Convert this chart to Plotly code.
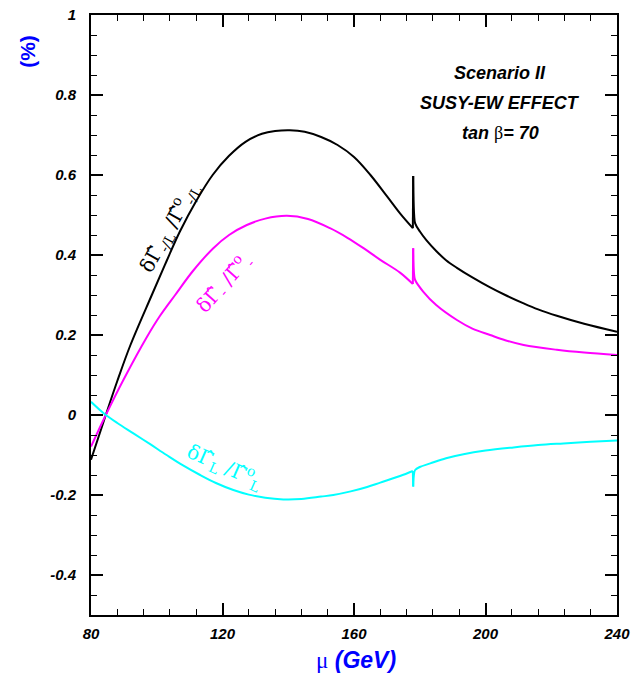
import plotly.graph_objects as go

# mu scan (GeV) and relative corrections (%) for each width;
# every curve has a threshold cusp at mu = 178 GeV
mu_total = [80, 84.5, 88, 92, 98.5, 103, 107, 112, 117, 122, 127, 132, 136, 140.5, 145, 150,
            155, 160, 165, 170, 174, 177.9,
            178.0, 178.3, 178.6, 180.1, 182, 185, 188, 191.3, 196, 201.4, 206, 211.6, 216,
            221.7, 230, 240]
d_total = [-0.112, 0.0, 0.085, 0.175, 0.30, 0.385, 0.458, 0.535, 0.60, 0.648, 0.683, 0.703,
           0.710, 0.712, 0.708, 0.695, 0.675, 0.645, 0.600, 0.547, 0.504, 0.467,
           0.5975, 0.50, 0.479, 0.458, 0.437, 0.41, 0.387, 0.368, 0.344, 0.319, 0.300, 0.279,
           0.264, 0.248, 0.228, 0.208]

mu_minus = [80, 84.5, 90, 97, 101, 105.6, 111, 117.2, 122, 127.4, 133, 139.6, 146, 152.7, 158,
            162.9, 168, 174, 177.9,
            178.0, 178.3, 178.6, 181.1, 185, 191.3, 196, 201.4, 206, 211.6, 221.7, 230, 240]
d_minus = [-0.079, 0.0, 0.09, 0.195, 0.248, 0.30, 0.36, 0.417, 0.450, 0.475, 0.491, 0.498,
           0.490, 0.467, 0.443, 0.417, 0.388, 0.356, 0.3275,
           0.4167, 0.35, 0.3375, 0.308, 0.275, 0.2375, 0.216, 0.20, 0.187, 0.175, 0.163, 0.156,
           0.15]

mu_left = [80, 82.7, 84.5, 88, 92.9, 98, 103, 108, 113.2, 118, 123.3, 128, 133, 138.5, 144,
           150, 153.7, 159, 164, 168, 174, 177.9,
           178.0, 178.3, 178.6, 180, 183.2, 188, 193.3, 200, 208.5, 216, 223.7, 232, 240]
d_left = [0.033, 0.0125, 0.0, -0.02, -0.046, -0.073, -0.10, -0.126, -0.15, -0.170, -0.1875,
          -0.199, -0.207, -0.211, -0.210, -0.204, -0.200, -0.191, -0.180, -0.169, -0.1525,
          -0.140,
          -0.179, -0.145, -0.1375, -0.130, -0.121, -0.108, -0.098, -0.089, -0.081, -0.075,
          -0.071, -0.067, -0.064]

mu_cusp = 178.0

x_ticks = [80, 120, 160, 200, 240]
y_ticks = [-0.4, -0.2, 0, 0.2, 0.4, 0.6, 0.8, 1]
y_tick_text = ["-0.4", "-0.2", "0", "0.2", "0.4", "0.6", "0.8", "1"]

BLUE = "#0000ff"
SANS = "Liberation Sans, Arial, sans-serif"
SERIF = "DejaVu Serif, Liberation Serif, serif"

fig = go.Figure()


def add_curve(xs, ys, col):
    # smooth branches on each side of the cusp, joined by the straight jump
    below = [i for i, v in enumerate(xs) if v < mu_cusp]
    above = [i for i, v in enumerate(xs) if v >= mu_cusp]
    jump = [below[-1], above[0]]
    for idx, shape in [(below, "spline"), (jump, "linear"), (above, "spline")]:
        fig.add_trace(go.Scatter(
            x=[xs[i] for i in idx], y=[ys[i] for i in idx], mode="lines",
            line=dict(color=col, width=2, shape=shape,
                      **({"smoothing": 1.0} if shape == "spline" else {})),
            showlegend=False, hoverinfo="skip"))


add_curve(mu_total, d_total, "black")
add_curve(mu_minus, d_minus, "#ff00ff")
add_curve(mu_left, d_left, "#00ffff")

axis_common = dict(showline=True, linecolor="black", linewidth=2, mirror="allticks",
                   ticks="inside", ticklen=12, tickwidth=1.5, tickcolor="black",
                   showgrid=False, zeroline=False, automargin=False,
                   tickfont=dict(family=SANS, size=15, color="black"))

fig.update_xaxes(range=[80, 240], tickvals=x_ticks,
                 ticktext=[f"<b><i>{v}</i></b>" for v in x_ticks],
                 minor=dict(ticks="inside", ticklen=6, tickwidth=1.2, tickcolor="black", dtick=8),
                 ticklabelstandoff=4, **axis_common)
fig.update_yaxes(range=[-0.5, 1], tickvals=y_ticks,
                 ticktext=[f"<b><i>{t}</i></b>" for t in y_tick_text],
                 minor=dict(ticks="inside", ticklen=6, tickwidth=1.2, tickcolor="black", dtick=0.05),
                 ticklabelstandoff=10, **axis_common)

annotations = [
    # scenario box
    dict(x=204.5, y=0.855, text="<b><i>Scenario II</i></b>"),
    dict(x=204.5, y=0.78, text="<b><i>SUSY-EW EFFECT</i></b>"),
    dict(x=204.5, y=0.705, text="<b><i>tan </i></b><span style='font-family:Liberation Serif'>β</span><b><i>= 70</i></b>"),
]
for a in annotations:
    a.update(xref="x", yref="y", showarrow=False,
             font=dict(family=SANS, size=18, color="black"))

curve_labels = [
    dict(x=103.6, y=0.47, textangle=-61, font=dict(family=SERIF, size=20, color="black"),
         text="δΓ̂<sub>-/L</sub> /Γ̂<sup>o</sup><sub>-/L</sub>"),
    dict(x=120.2, y=0.33, textangle=-48, font=dict(family=SERIF, size=20, color="#ff00ff"),
         text="δΓ̂<sub>-</sub> /Γ̂<sup>o</sup><sub>-</sub>"),
    dict(x=120.8, y=-0.128, textangle=24, font=dict(family=SERIF, size=20, color="#00ffff"),
         text="δΓ̂<sub>L</sub> /Γ̂<sup>o</sup><sub>L</sub>"),
]
for a in curve_labels:
    a.update(xref="x", yref="y", showarrow=False)

axis_titles = [
    dict(x=-0.122, y=0.94, xref="paper", yref="paper", xanchor="center", yanchor="middle",
         textangle=-90, showarrow=False,
         text="<b>(%)</b>", font=dict(family=SANS, size=21, color=BLUE)),
    dict(x=0.504, y=-0.075, xref="paper", yref="paper", xanchor="center", yanchor="middle",
         showarrow=False,
         text="<span style='font-family:Liberation Serif'>μ</span><b><i> (GeV)</i></b>",
         font=dict(family=SANS, size=23, color=BLUE)),
]

fig.update_layout(width=633, height=679, margin=dict(l=91, r=16, t=15, b=64),
                  template="none", paper_bgcolor="white", plot_bgcolor="white",
                  annotations=annotations + curve_labels + axis_titles)

fig.write_html("out.html")
